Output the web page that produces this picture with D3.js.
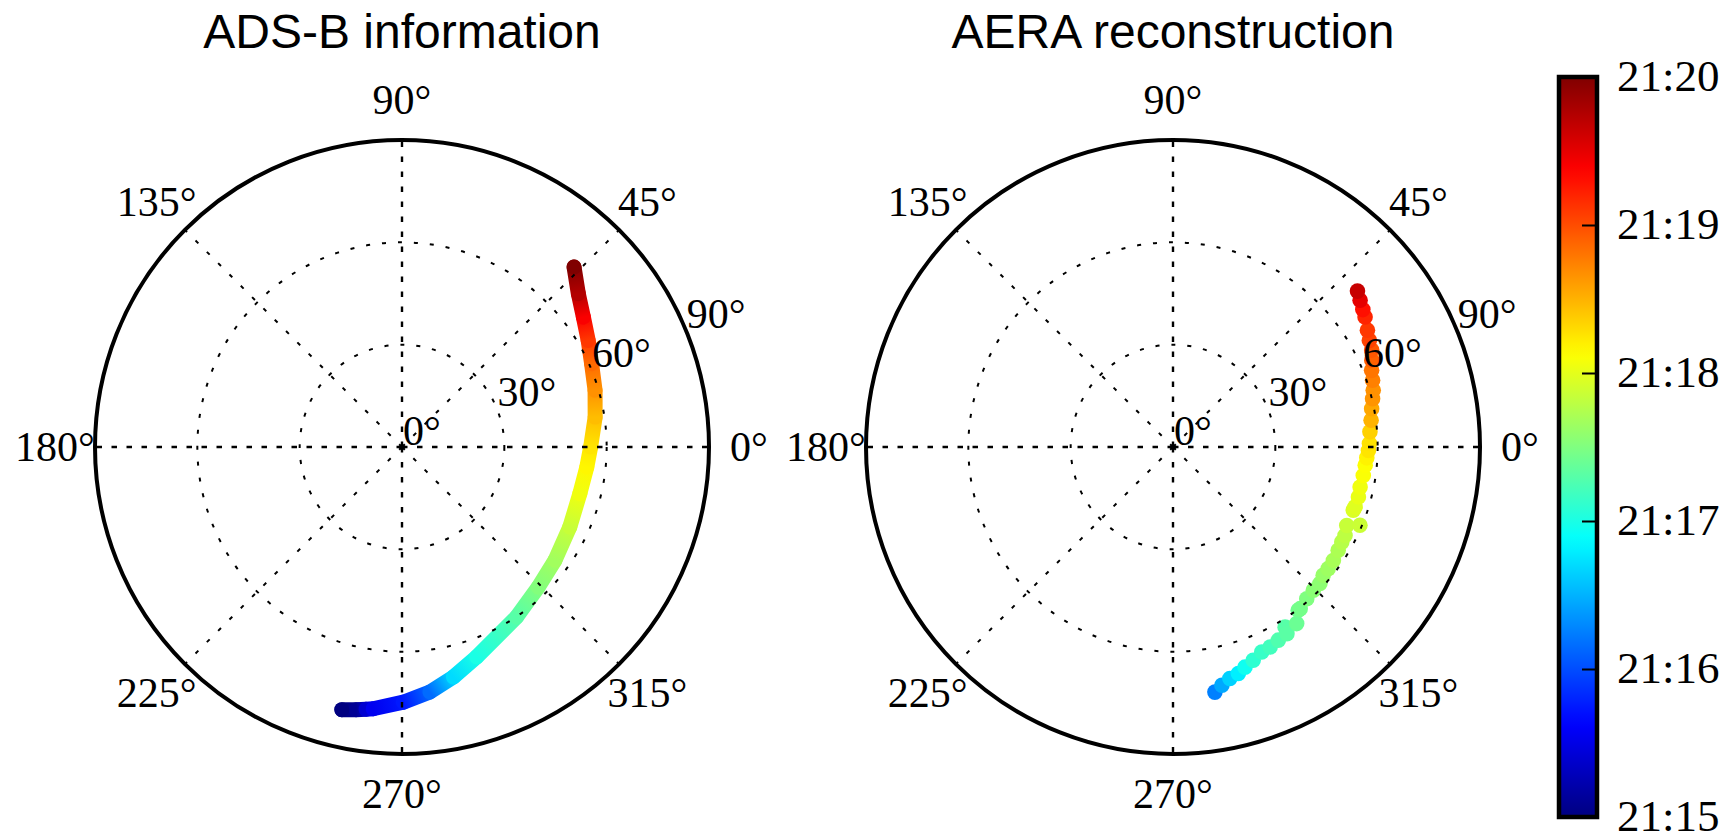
<!DOCTYPE html>
<html>
<head>
<meta charset="utf-8">
<script src="https://cdn.jsdelivr.net/npm/d3@7"></script>
<style>
  html, body { margin: 0; padding: 0; background: #ffffff; }
  svg { display: block; }
</style>
</head>
<body>
<svg id="chart" width="1733" height="835"></svg>
<script>
// ---- ADS-B track (time, azimuth in degrees from east, zenith angle in degrees)
const adsbTime = ["21:15:00","21:15:06","21:15:24","21:15:33","21:15:45","21:16:09","21:16:42","21:17:00",
  "21:17:18","21:17:31","21:17:40","21:17:51","21:18:03","21:18:10","21:18:15","21:18:27",
  "21:18:40","21:18:51","21:19:06","21:19:24","21:19:45","21:20:00"];
const adsbAzimuth = [257.1, 260.1, 262.2, 263.7, 270.3, 276.5, 282.6, 289.6,
  304.0, 314.2, 323.5, 334.5, 345.3, 353.8, 0.0, 8.8,
  16.4, 23.7, 29.8, 35.6, 41.0, 46.3];
const adsbZenith = [79.0, 78.2, 77.6, 77.2, 74.8, 72.3, 69.1, 65.3,
  60.1, 57.3, 55.8, 54.5, 53.9, 54.5, 55.3, 57.3,
  59.0, 60.7, 62.9, 65.4, 68.5, 73.0];

// ---- AERA reconstructed arrival directions
const aeraTime = ["21:16:15","21:16:27","21:16:39","21:16:48","21:16:57","21:17:06","21:17:09",
  "21:17:12","21:17:16","21:17:18","21:17:19","21:17:24","21:17:25","21:17:27","21:17:30",
  "21:17:33","21:17:34","21:17:37","21:17:39","21:17:42","21:17:43","21:17:46","21:17:48",
  "21:17:51","21:17:52","21:17:57","21:17:58","21:18:01","21:18:03","21:18:06","21:18:07",
  "21:18:11","21:18:15","21:18:16","21:18:21","21:18:30","21:18:33","21:18:39","21:18:40",
  "21:18:45","21:18:48","21:18:54","21:18:57","21:19:03","21:19:06","21:19:12","21:19:18",
  "21:19:30","21:19:39"];
const aeraAzimuth = [279.7, 281.6, 283.8, 286.1, 288.1, 290.6, 293.4,
  295.9, 298.6, 301.9, 301.4, 305.0, 307.5, 308.2, 311.4,
  314.4, 317.1, 319.5, 321.9, 324.7, 328.0, 330.6, 332.8,
  335.7, 337.3, 340.7, 341.8, 344.9, 347.9, 351.5, 354.6,
  356.8, 359.0, 1.0, 4.4, 7.7, 10.9, 13.6, 15.8,
  18.5, 21.1, 23.6, 26.0, 28.5, 31.0, 34.1, 35.9,
  38.1, 40.2];
const aeraZenith = [72.9, 71.3, 69.9, 69.1, 67.9, 66.8, 65.5,
  65.2, 64.5, 62.2, 64.1, 63.2, 60.3, 60.3, 59.3,
  58.8, 58.8, 57.9, 57.8, 57.6, 57.1, 56.8, 56.7,
  55.9, 59.4, 56.0, 56.2, 56.3, 56.1, 56.4, 56.6,
  56.9, 57.3, 57.6, 57.9, 58.6, 59.3, 60.2, 61.0,
  61.7, 62.4, 63.6, 64.8, 65.5, 66.5, 68.0, 68.7,
  69.7, 70.8];

// ---- axes
const titles = ["ADS-B information", "AERA reconstruction"];
const azimuthTicks = [0, 45, 90, 135, 180, 225, 270, 315];
const zenithTicks = [0, 30, 60, 90];
const timeRange = ["21:15:00", "21:20:00"];
const colorTicks = ["21:15:00", "21:16:00", "21:17:00", "21:18:00", "21:19:00", "21:20:00"];

const svg = d3.select("#chart");
const parseT = d3.timeParse("%H:%M:%S");
const R = 307;

// jet colour map
function jet(f) {
  const c = v => Math.max(0, Math.min(1, v));
  return d3.rgb(255 * c(Math.min(4 * f - 1.5, -4 * f + 4.5)),
                255 * c(Math.min(4 * f - 0.5, -4 * f + 3.5)),
                255 * c(Math.min(4 * f + 0.5, -4 * f + 2.5))).formatHex();
}
const tNorm = d3.scaleTime().domain(timeRange.map(parseT)).range([0, 1]).clamp(true);
const colorOf = t => jet(tNorm(parseT(t)));

const rScale = d3.scaleLinear().domain([0, 90]).range([0, R]);
const aScale = d3.scaleLinear().domain([0, 360]).range([0, 2 * Math.PI]);

const SERIF = "'Liberation Serif', 'Times New Roman', serif";
const SANS = "'Liberation Sans', Arial, Helvetica, sans-serif";

const panels = [
  { cx: 402, cy: 447, title: titles[0], kind: "track",
    rows: adsbTime.map((t, i) => ({ t, az: adsbAzimuth[i], zen: adsbZenith[i] })) },
  { cx: 1173, cy: 447, title: titles[1], kind: "scatter",
    rows: aeraTime.map((t, i) => ({ t, az: aeraAzimuth[i], zen: aeraZenith[i] })) }
];

const defs = svg.append("defs");

panels.forEach((p, pi) => {
  const X = (az, zen) => p.cx + rScale(zen) * Math.cos(aScale(az));
  const Y = (az, zen) => p.cy - rScale(zen) * Math.sin(aScale(az));

  // title
  svg.append("text")
    .attr("x", p.cx).attr("y", 48)
    .attr("text-anchor", "middle")
    .style("font-family", SANS).style("font-size", "48px").attr("fill", "#000")
    .text(p.title);

  // data
  const dataG = svg.append("g");
  if (p.kind === "track") {
    const segs = d3.pairs(p.rows);
    segs.forEach(([a, b], i) => {
      const lg = defs.append("linearGradient").attr("id", `seg-${pi}-${i}`)
        .attr("gradientUnits", "userSpaceOnUse")
        .attr("x1", X(a.az, a.zen)).attr("y1", Y(a.az, a.zen))
        .attr("x2", X(b.az, b.zen)).attr("y2", Y(b.az, b.zen));
      lg.append("stop").attr("offset", 0).attr("stop-color", colorOf(a.t));
      lg.append("stop").attr("offset", 1).attr("stop-color", colorOf(b.t));
    });
    segs.forEach(([a, b], i) => {
      dataG.append("line")
        .attr("x1", X(a.az, a.zen)).attr("y1", Y(a.az, a.zen))
        .attr("x2", X(b.az, b.zen)).attr("y2", Y(b.az, b.zen))
        .attr("stroke", `url(#seg-${pi}-${i})`)
        .attr("stroke-width", 15).attr("stroke-linecap", "round");
    });
    dataG.selectAll("circle").data([p.rows[0], p.rows[p.rows.length - 1]]).join("circle")
      .attr("cx", d => X(d.az, d.zen)).attr("cy", d => Y(d.az, d.zen))
      .attr("r", 7.5).attr("fill", d => colorOf(d.t));
  } else {
    dataG.selectAll("circle").data(p.rows).join("circle")
      .attr("cx", d => X(d.az, d.zen)).attr("cy", d => Y(d.az, d.zen))
      .attr("r", 7.8).attr("fill", d => colorOf(d.t));
  }

  // grid on top of the data
  const grid = svg.append("g").attr("transform", `translate(${p.cx},${p.cy})`);
  grid.selectAll("circle.ring").data(zenithTicks.filter(v => v > 0 && v < 90)).join("circle")
    .attr("class", "ring").attr("r", d => rScale(d))
    .attr("fill", "none").attr("stroke", "#000").attr("stroke-width", 2)
    .attr("stroke-dasharray", "4,12");
  grid.selectAll("line.spoke").data(azimuthTicks).join("line")
    .attr("class", "spoke")
    .attr("x1", 0).attr("y1", 0)
    .attr("x2", d => rScale(90) * Math.cos(aScale(d)))
    .attr("y2", d => -rScale(90) * Math.sin(aScale(d)))
    .attr("stroke", "#000")
    .attr("stroke-width", d => d % 90 === 0 ? 2.4 : 2)
    .attr("stroke-dasharray", d => d % 90 === 0 ? "5.5,9.5" : "4,12");
  grid.append("circle").attr("r", 2.6).attr("fill", "#000");

  // outer boundary (zenith 90)
  grid.append("circle").attr("r", rScale(90))
    .attr("fill", "none").attr("stroke", "#000").attr("stroke-width", 4);

  // azimuth labels
  grid.selectAll("text.az").data(azimuthTicks).join("text")
    .attr("class", "az")
    .attr("x", d => (R + 40) * Math.cos(aScale(d)))
    .attr("y", d => -(R + 40) * Math.sin(aScale(d)))
    .attr("dy", "0.34em")
    .attr("text-anchor", "middle")
    .style("font-family", SERIF).style("font-size", "42px").attr("fill", "#000")
    .text(d => `${d}°`);

  // zenith labels along 22.5°
  const la = aScale(22.5);
  grid.selectAll("text.zen").data(zenithTicks).join("text")
    .attr("class", "zen")
    .attr("x", d => rScale(d) * Math.cos(la) + 1)
    .attr("y", d => -rScale(d) * Math.sin(la) - 2)
    .attr("text-anchor", "start")
    .style("font-family", SERIF).style("font-size", "42px").attr("fill", "#000")
    .text(d => `${d}°`);
});

// ---- colour bar
const cb = { x: 1559, w: 38, top: 77, bottom: 817 };
const grad = defs.append("linearGradient").attr("id", "cbar")
  .attr("x1", 0).attr("y1", 1).attr("x2", 0).attr("y2", 0);
d3.range(0, 1.0001, 0.02).forEach(f => {
  grad.append("stop").attr("offset", f).attr("stop-color", jet(f));
});
svg.append("rect")
  .attr("x", cb.x).attr("y", cb.top).attr("width", cb.w).attr("height", cb.bottom - cb.top)
  .attr("fill", "url(#cbar)");

const yTime = d3.scaleTime().domain(timeRange.map(parseT)).range([cb.bottom, cb.top]);
const axis = d3.axisRight(yTime)
  .tickValues(colorTicks.map(parseT))
  .tickFormat(d3.timeFormat("%H:%M"))
  .tickSizeInner(-15).tickSizeOuter(0).tickPadding(20);
const axG = svg.append("g").attr("transform", `translate(${cb.x + cb.w},0)`).call(axis);
axG.select(".domain").remove();
axG.selectAll(".tick line").attr("stroke", "#000").attr("stroke-width", 2);
axG.selectAll(".tick text")
  .attr("dy", "0.3em")
  .style("font-family", SERIF).style("font-size", "45px").attr("fill", "#000");

svg.append("rect")
  .attr("x", cb.x).attr("y", cb.top).attr("width", cb.w).attr("height", cb.bottom - cb.top)
  .attr("fill", "none").attr("stroke", "#000").attr("stroke-width", 4.5);
</script>
</body>
</html>
